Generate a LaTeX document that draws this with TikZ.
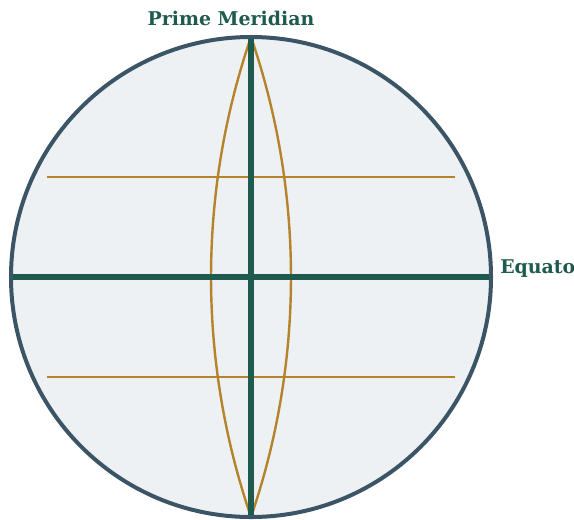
\documentclass[tikz,border=0pt]{standalone}
\usepackage{fontspec}
\setmainfont{DejaVu Serif}
\definecolor{globefill}{HTML}{EEF1F4}
\definecolor{globeedge}{HTML}{3B5566}
\definecolor{mainline}{HTML}{1F5A4E}
\definecolor{gold}{HTML}{B5832B}
\tikzset{
  edge/.style={draw=globeedge, line width=3pt},
  mainaxis/.style={draw=mainline, line width=4.6pt},
  goldline/.style={draw=gold, line width=1.8pt},
  lbl/.style={text=mainline, font=\bfseries\fontsize{14.2}{16}\selectfont, inner sep=0pt}
}
\begin{document}
\begin{tikzpicture}[x=0.75pt, y=-0.75pt]
\useasboundingbox (0,0) rectangle (574,519);
\clip (0,0) rectangle (574,519);
\coordinate (C) at (251,277);
\coordinate (N) at (251,37);
\coordinate (S) at (251,517);
\coordinate (W) at (11,277);
\coordinate (E) at (491,277);
\coordinate (L1a) at (47,177);
\coordinate (L1b) at (455,177);
\coordinate (L2a) at (47,377);
\coordinate (L2b) at (455,377);
\fill[globefill] (C) circle[radius=240];
% gold lens
\draw[goldline] (N) arc[start angle=198.92, end angle=161.08, radius=740];
\draw[goldline] (N) arc[start angle=-18.92, end angle=18.92, radius=740];
\draw[goldline] (L1a) -- (L1b);
\draw[goldline] (L2a) -- (L2b);
\draw[mainaxis] (W) -- (E);
\draw[mainaxis] (N) -- (S);
\draw[edge] (C) circle[radius=240];
\node[lbl, anchor=base] (pm) at (231,25) {Prime Meridian};
\node[lbl, anchor=base west] (eq) at (500,273) {Equator};
\end{tikzpicture}
\end{document}
